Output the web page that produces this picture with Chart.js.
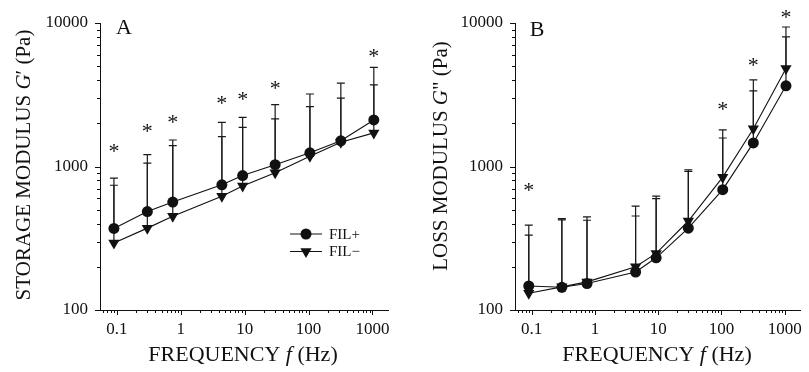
<!DOCTYPE html>
<html>
<head>
<meta charset="utf-8">
<script src="https://cdn.jsdelivr.net/npm/chart.js@4.4.1/dist/chart.umd.min.js"></script>
<style>
  html, body { margin: 0; padding: 0; background: #fff; }
  #wrap { position: relative; width: 809px; height: 372px; }
  .panel { position: absolute; top: 0; }
  #panelA { left: 0; }
  #panelB { left: 405px; }
</style>
</head>
<body>
<div id="wrap">
  <div class="panel" id="panelA"><canvas id="chartA" width="405" height="372"></canvas></div>
  <div class="panel" id="panelB"><canvas id="chartB" width="404" height="372"></canvas></div>
</div>
<script>
// ─── data ───────────────────────────────────────────────────────────────────
const freq = [0.09, 0.3, 0.75, 4.4, 9.3, 30, 105, 320, 1050];
const xTickLabels = ["0.1", "1", "10", "100", "1000"];
const yTickLabels = ["100", "1000", "10000"];

// A: storage modulus G' (Pa)
const storagePlus = [370, 485, 565, 745, 865, 1030, 1245, 1510, 2110];
const storageMinus = [293, 372, 450, 620, 730, 905, 1180, 1475, 1715];
const storagePlusTop = [830, 1210, 1530, 2030, 2200, 2700, 3200, 3810, 4900];
const storageMinusTop = [740, 1055, 1400, 1615, 1875, 2145, 2610, 3000, 3700];
const storageStars = [1335, 1840, 2155, 2920, 3110, 3710, null, null, 6190];

// B: loss modulus G" (Pa)
const lossPlus = [147, 144, 153, 184, 231, 372, 690, 1460, 3650];
const lossMinus = [131, 145, 157, 200, 248, 417, 843, 1830, 4820];
const lossPlusTop = [390, 433, 445, 530, 622, 948, 1580, 3370, 8000];
const lossMinusTop = [332, 425, 422, 452, 597, 923, 1800, 4020, 9380];
const lossStars = [715, null, null, null, null, null, 2655, 5360, 11550];

const seriesLabels = ["FIL+", "FIL\u2212"];

// ─── helpers ────────────────────────────────────────────────────────────────
const SERIF = '"Liberation Serif", "Times New Roman", serif';
const INK = "#111";

function isDecade(v) {
  const l = Math.log10(v);
  return Math.abs(l - Math.round(l)) < 1e-9;
}

function drawRich(ctx, parts, x, y, size, rotate) {
  ctx.save();
  ctx.translate(x, y);
  if (rotate) ctx.rotate(-Math.PI / 2);
  ctx.fillStyle = INK;
  ctx.textBaseline = "middle";
  ctx.textAlign = "left";
  let total = 0;
  parts.forEach(p => {
    ctx.font = (p.i ? "italic " : "") + size + "px " + SERIF;
    p.w = ctx.measureText(p.t).width;
    total += p.w;
  });
  let cx = -total / 2;
  parts.forEach(p => {
    ctx.font = (p.i ? "italic " : "") + size + "px " + SERIF;
    ctx.fillText(p.t, cx, 0);
    cx += p.w;
  });
  ctx.restore();
}

function pts(ys) { return freq.map((f, i) => ({ x: f, y: ys[i] })); }

function makeDecor(cfg) {
  return {
    id: "decor",
    beforeDatasetsDraw(chart) {
      // upward error bars
      const ctx = chart.ctx, ys = chart.scales.y;
      ctx.save();
      ctx.strokeStyle = "#1a1a1a";
      ctx.lineWidth = 1.2;
      chart.data.datasets.forEach((ds, i) => {
        const meta = chart.getDatasetMeta(i);
        ds.errTop.forEach((top, j) => {
          const p = meta.data[j];
          const yt = ys.getPixelForValue(top);
          ctx.beginPath();
          ctx.moveTo(p.x, p.y);
          ctx.lineTo(p.x, yt);
          ctx.moveTo(p.x - 4, yt);
          ctx.lineTo(p.x + 4, yt);
          ctx.stroke();
        });
      });
      ctx.restore();
    },
    afterDraw(chart) {
      const ctx = chart.ctx, xs = chart.scales.x, ys = chart.scales.y;
      const area = chart.chartArea;
      ctx.save();
      ctx.strokeStyle = INK;
      ctx.lineWidth = 1;
      // log tick marks, pointing out
      for (let e = -2; e <= 4; e++) {
        for (let m = 1; m <= 9; m++) {
          const v = m * Math.pow(10, e);
          const len = m === 1 ? 5 : 3;
          if (v >= xs.min && v <= xs.max) {
            const px = Math.round(xs.getPixelForValue(v)) + 0.5;
            ctx.beginPath();
            ctx.moveTo(px, area.bottom);
            ctx.lineTo(px, area.bottom + len);
            ctx.stroke();
          }
          if (v >= ys.min && v <= ys.max) {
            const py = Math.round(ys.getPixelForValue(v)) + 0.5;
            ctx.beginPath();
            ctx.moveTo(area.left, py);
            ctx.lineTo(area.left - len, py);
            ctx.stroke();
          }
        }
      }
      // significance stars
      ctx.fillStyle = INK;
      ctx.font = "22px " + SERIF;
      ctx.textAlign = "center";
      ctx.textBaseline = "alphabetic";
      cfg.stars.forEach((s, j) => {
        if (s == null) return;
        ctx.fillText("*", xs.getPixelForValue(freq[j]), ys.getPixelForValue(s) + 10);
      });
      // panel letter
      ctx.font = "22px " + SERIF;
      ctx.textBaseline = "middle";
      ctx.fillText(cfg.letter, cfg.letterPos[0], cfg.letterPos[1]);
      // legend
      if (cfg.legend) {
        const [lx, ly] = cfg.legend;
        chart.data.datasets.forEach((ds, i) => {
          const y = ly + i * 17.5;
          ctx.strokeStyle = INK;
          ctx.lineWidth = 1;
          ctx.beginPath();
          ctx.moveTo(lx, y);
          ctx.lineTo(lx + 32, y);
          ctx.stroke();
          ctx.fillStyle = INK;
          Chart.helpers.drawPoint(ctx, {
            pointStyle: ds.pointStyle, rotation: ds.pointRotation,
            radius: ds.pointRadius, borderWidth: 0
          }, lx + 16, y);
          ctx.font = "15px " + SERIF;
          ctx.textAlign = "left";
          ctx.textBaseline = "middle";
          ctx.fillText(ds.label, lx + 39, y + 1);
        });
      }
      ctx.restore();
      // axis titles
      drawRich(ctx, cfg.yTitle, cfg.yTitlePos[0], cfg.yTitlePos[1], 21, true);
      drawRich(ctx, [{ t: "FREQUENCY " }, { t: "f", i: true }, { t: " (Hz)" }],
        cfg.xTitlePos[0], cfg.xTitlePos[1], 22, false);
    }
  };
}

function buildChart(id, plus, minus, plusTop, minusTop, yWidth, padRight, decor) {
  const base = { borderColor: INK, backgroundColor: INK, borderWidth: 1.1,
    pointBorderWidth: 0, pointHoverRadius: 6, tension: 0 };
  return new Chart(document.getElementById(id), {
    type: "line",
    data: {
      datasets: [
        Object.assign({}, base, { label: seriesLabels[0], data: pts(plus), errTop: plusTop,
          pointStyle: "circle", pointRadius: 5.5, pointRotation: 0 }),
        Object.assign({}, base, { label: seriesLabels[1], data: pts(minus), errTop: minusTop,
          pointStyle: "triangle", pointRadius: 6.5, pointRotation: 180 })
      ]
    },
    options: {
      responsive: false,
      animation: false,
      layout: { padding: { left: 0, right: padRight, top: 23, bottom: 0 } },
      plugins: { legend: { display: false }, tooltip: { enabled: false } },
      scales: {
        x: {
          type: "logarithmic", min: 0.0545, max: 1750,
          grid: { display: false, drawTicks: false },
          border: { display: true, color: INK, width: 1 },
          ticks: {
            autoSkip: false, maxRotation: 0, padding: 9, color: INK,
            font: { family: SERIF, size: 17 },
            callback: v => isDecade(v) && xTickLabels.includes(String(v)) ? String(v) : ""
          },
          afterFit: s => { s.height = 62; }
        },
        y: {
          type: "logarithmic", min: 100, max: 10000,
          grid: { display: false, drawTicks: false },
          border: { display: true, color: INK, width: 1 },
          ticks: {
            autoSkip: false, padding: 12, color: INK,
            font: { family: SERIF, size: 17 },
            callback: v => isDecade(v) && yTickLabels.includes(String(v)) ? String(v) : ""
          },
          afterFit: s => { s.width = yWidth; }
        }
      }
    },
    plugins: [makeDecor(decor)]
  });
}

buildChart("chartA", storagePlus, storageMinus, storagePlusTop, storageMinusTop, 100, 17, {
  stars: storageStars, letter: "A", letterPos: [124, 28], legend: [290, 234],
  yTitle: [{ t: "STORAGE MODULUS " }, { t: "G", i: true }, { t: "\u2032 (Pa)" }],
  yTitlePos: [24, 165], xTitlePos: [243, 355]
});

buildChart("chartB", lossPlus, lossMinus, lossPlusTop, lossMinusTop, 110, 6, {
  stars: lossStars, letter: "B", letterPos: [132, 30], legend: null,
  yTitle: [{ t: "LOSS MODULUS " }, { t: "G", i: true }, { t: "\" (Pa)" }],
  yTitlePos: [36, 156], xTitlePos: [252, 355]
});
</script>
</body>
</html>
